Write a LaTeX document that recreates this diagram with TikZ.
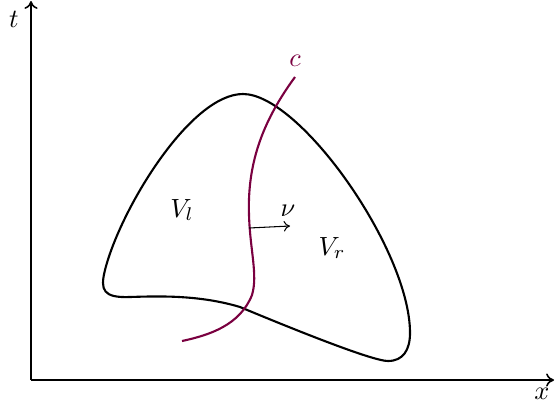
\documentclass[tikz,border=0pt]{standalone}
\usetikzlibrary{arrows.meta}
\definecolor{curvec}{RGB}{122,0,64}
\begin{document}
\begin{tikzpicture}[x=0.38pt,y=-0.38pt,
  axis/.style={semithick,-{To[length=3pt,width=5pt]}},
  region/.style={thick,line join=round},
  ccurve/.style={thick,curvec},
  vec/.style={thin,-{To[length=2.4pt,width=4pt]}},
  lbl/.style={inner sep=0pt}]
\useasboundingbox (0,0) rectangle (555,410);
% axes
\coordinate (O) at (31,380);
\coordinate (ytip) at (31,1);
\coordinate (xtip) at (554,380);
\draw[axis] (O) -- (ytip);
\draw[axis] (O) -- (xtip);
\node[lbl] (tlab) at (14,19) {$t$};
\node[lbl] (xlab) at (542,394) {$x$};
% region V
\draw[region] (243,94) .. controls (300,94) and (410,250) .. (410,333)
  .. controls (410,350) and (403,361) .. (388,361)
  .. controls (373,361) and (300,332) .. (240,307)
  .. controls (200,295) and (160,296) .. (130,297)
  .. controls (103,298) and (100,290) .. (105,270)
  .. controls (120,210) and (190,94) .. (243,94) -- cycle;
% curve c
\draw[ccurve] (295,77) .. controls (265,118) and (247,160) .. (249,215)
  .. controls (250,250) and (258,275) .. (252,295)
  .. controls (240,325) and (210,335) .. (182,341);
\node[lbl,text=curvec] (clab) at (295,61) {$c$};
% normal vector
\coordinate (nu0) at (249,228);
\coordinate (nu1) at (290,226);
\draw[vec] (nu0) -- (nu1);
\node[lbl] (nulab) at (288,211) {$\nu$};
% region labels
\node[lbl] (Vl) at (182,210) {$V_l$};
\node[lbl] (Vr) at (332,248) {$V_r$};
\end{tikzpicture}
\end{document}
